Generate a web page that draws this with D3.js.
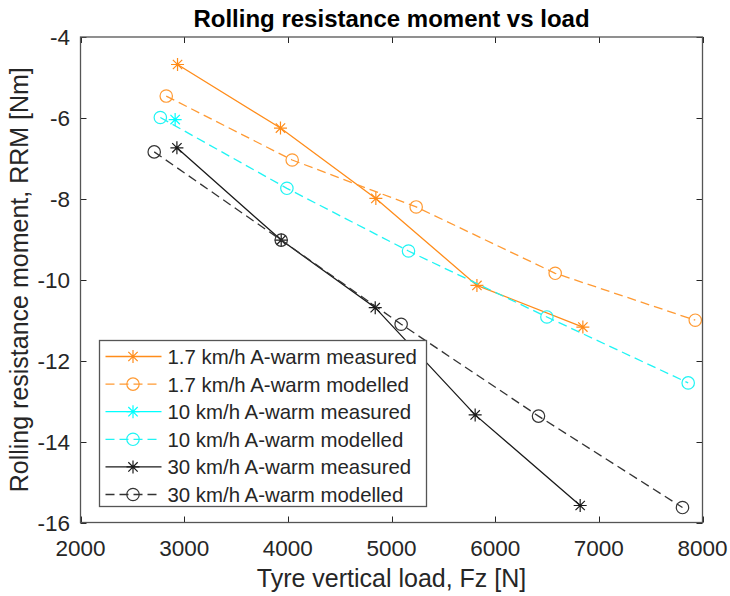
<!DOCTYPE html>
<html>
<head>
<meta charset="utf-8">
<script src="https://cdn.jsdelivr.net/npm/d3@7/dist/d3.min.js"></script>
<style>
  html, body { margin: 0; padding: 0; background: #fff; }
  svg { display: block; font-family: "Liberation Sans", Arial, Helvetica, sans-serif; }
</style>
</head>
<body>
<svg id="chart" width="730" height="596"></svg>
<script>
// Rolling resistance moment [Nm] against tyre vertical load [N]
const load17Measured = [2936, 3929, 4849, 5824, 6846];
const rrm17Measured  = [-4.68, -6.25, -7.99, -10.14, -11.17];
const load17Modelled = [2827, 4042, 5238, 6579, 7930];
const rrm17Modelled  = [-5.46, -7.04, -8.20, -9.84, -11.00];
const load10Measured = [2913];
const rrm10Measured  = [-6.04];
const load10Modelled = [2770, 3991, 5164, 6499, 7862];
const rrm10Modelled  = [-5.99, -7.74, -9.29, -10.92, -12.55];
const load30Measured = [2930, 3936, 4843, 5807, 6820];
const rrm30Measured  = [-6.74, -9.02, -10.69, -13.34, -15.58];
const load30Modelled = [2711, 3936, 5093, 6418, 7807];
const rrm30Modelled  = [-6.84, -9.02, -11.10, -13.37, -15.63];

const seriesNames = [
  "1.7 km/h A-warm measured",
  "1.7 km/h A-warm modelled",
  "10 km/h A-warm measured",
  "10 km/h A-warm modelled",
  "30 km/h A-warm measured",
  "30 km/h A-warm modelled"
];
const xTicks = [2000, 3000, 4000, 5000, 6000, 7000, 8000];
const yTicks = [-4, -6, -8, -10, -12, -14, -16];

const series = [
  { name: seriesNames[0], x: load17Measured, y: rrm17Measured, color: "#ff8c1a", dash: null, marker: "star" },
  { name: seriesNames[1], x: load17Modelled, y: rrm17Modelled, color: "#ff9a33", dash: "9,5", marker: "circle" },
  { name: seriesNames[2], x: load10Measured, y: rrm10Measured, color: "#00ffff", dash: null, marker: "star" },
  { name: seriesNames[3], x: load10Modelled, y: rrm10Modelled, color: "#1ff4f4", dash: "9,5", marker: "circle" },
  { name: seriesNames[4], x: load30Measured, y: rrm30Measured, color: "#1a1a1a", dash: null, marker: "star" },
  { name: seriesNames[5], x: load30Modelled, y: rrm30Modelled, color: "#333333", dash: "9,5", marker: "circle" }
];

const svg = d3.select("#chart");
const plot = { left: 80.5, top: 37, right: 702.5, bottom: 522.5 };
const ink = "#262626";

const x = d3.scaleLinear().domain([2000, 8000]).range([plot.left, plot.right]);
const y = d3.scaleLinear().domain([-16, -4]).range([plot.bottom, plot.top]);

// Star marker made of a plus and a cross
function starPath(s) {
  const d = s * 0.72;
  return `M${-s},0L${s},0M0,${-s}L0,${s}M${-d},${-d}L${d},${d}M${-d},${d}L${d},${-d}`;
}

function drawMarker(g, kind, cx, cy, color) {
  if (kind === "star") {
    g.append("path").attr("d", starPath(6.5))
      .attr("transform", `translate(${cx},${cy})`)
      .attr("fill", "none").attr("stroke", color).attr("stroke-width", 1.2);
  } else {
    g.append("circle").attr("cx", cx).attr("cy", cy).attr("r", 6.2)
      .attr("fill", "none").attr("stroke", color).attr("stroke-width", 1.2);
  }
}

// Title
svg.append("text").attr("x", (plot.left + plot.right) / 2).attr("y", 27)
  .attr("text-anchor", "middle").attr("font-size", 24).attr("font-weight", "bold")
  .attr("fill", "#000").text("Rolling resistance moment vs load");

// Axes frame background
svg.append("rect").attr("x", plot.left).attr("y", plot.top)
  .attr("width", plot.right - plot.left).attr("height", plot.bottom - plot.top)
  .attr("fill", "#fff");

// Ticks (inward, on all four sides)
const tickLen = 6;
const tg = svg.append("g").attr("stroke", ink).attr("stroke-width", 1);
xTicks.forEach(t => {
  const px = Math.round(x(t)) + 0.5;
  tg.append("line").attr("x1", px).attr("x2", px).attr("y1", plot.bottom).attr("y2", plot.bottom - tickLen);
  tg.append("line").attr("x1", px).attr("x2", px).attr("y1", plot.top).attr("y2", plot.top + tickLen);
});
yTicks.forEach(t => {
  const py = Math.round(y(t)) + 0.5;
  tg.append("line").attr("x1", plot.left).attr("x2", plot.left + tickLen).attr("y1", py).attr("y2", py);
  tg.append("line").attr("x1", plot.right).attr("x2", plot.right - tickLen).attr("y1", py).attr("y2", py);
});

// Tick labels
const tl = svg.append("g").attr("fill", ink).attr("font-size", 22.5);
xTicks.forEach(t => {
  tl.append("text").attr("x", x(t)).attr("y", 556).attr("text-anchor", "middle").text(t);
});
yTicks.forEach(t => {
  tl.append("text").attr("x", 70).attr("y", y(t) + 8).attr("text-anchor", "end").text(t);
});

// Axis labels
svg.append("text").attr("x", (plot.left + plot.right) / 2).attr("y", 587)
  .attr("text-anchor", "middle").attr("font-size", 25).attr("fill", ink)
  .text("Tyre vertical load, Fz [N]");
svg.append("text").attr("transform", `translate(28,${(plot.top + plot.bottom) / 2}) rotate(-90)`)
  .attr("text-anchor", "middle").attr("font-size", 25).attr("fill", ink)
  .text("Rolling resistance moment, RRM [Nm]");

// Series
const line = d3.line().x(d => x(d[0])).y(d => y(d[1]));
const sg = svg.append("g");
series.forEach(s => {
  const pts = s.x.map((v, i) => [v, s.y[i]]);
  const g = sg.append("g");
  g.append("path").attr("d", line(pts)).attr("fill", "none")
    .attr("stroke", s.color).attr("stroke-width", 1.3)
    .attr("stroke-dasharray", s.dash);
  pts.forEach(p => drawMarker(g, s.marker, x(p[0]), y(p[1]), s.color));
});

// Frame
svg.append("rect").attr("x", plot.left).attr("y", plot.top)
  .attr("width", plot.right - plot.left).attr("height", plot.bottom - plot.top)
  .attr("fill", "none").attr("stroke", "#555").attr("stroke-width", 1.3);

// Legend
const leg = { x: 99.5, y: 340.5, w: 327, h: 166, row: 27.6 };
const lg = svg.append("g");
lg.append("rect").attr("x", leg.x).attr("y", leg.y).attr("width", leg.w).attr("height", leg.h)
  .attr("fill", "#fff").attr("stroke", "#555").attr("stroke-width", 1.3);
series.forEach((s, i) => {
  const cy = leg.y + 16 + i * leg.row;
  lg.append("line").attr("x1", leg.x + 6).attr("x2", leg.x + 62).attr("y1", cy).attr("y2", cy)
    .attr("stroke", s.color).attr("stroke-width", 1.3).attr("stroke-dasharray", s.dash);
  drawMarker(lg, s.marker, leg.x + 33.5, cy, s.color);
  lg.append("text").attr("x", leg.x + 68).attr("y", cy + 7.5).attr("font-size", 20.4)
    .attr("fill", ink).text(s.name);
});
</script>
</body>
</html>
